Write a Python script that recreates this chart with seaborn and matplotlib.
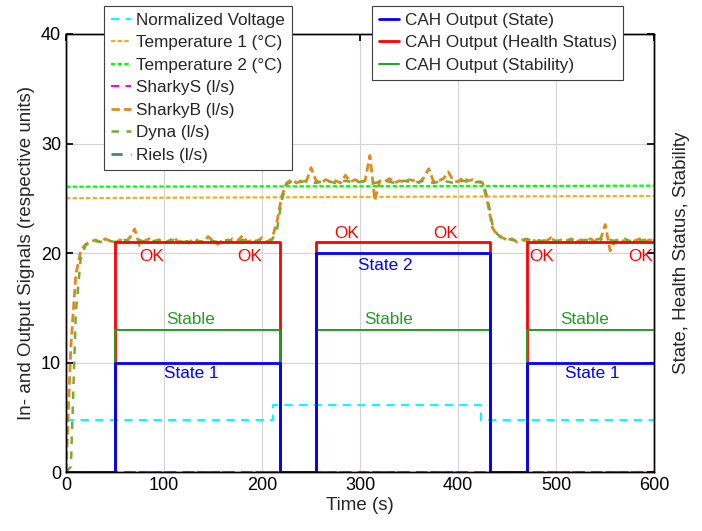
import numpy as np
import pandas as pd
import matplotlib
matplotlib.use("Agg")
import matplotlib.pyplot as plt
import seaborn as sns

# --- Data ---
TIME = np.arange(0, 601, 5)

sharky_b = [
    0.0, 11.5, 18.0, 20.2, 20.8, 21.0, 21.2, 21.0, 21.3, 21.1,
    20.9, 21.2, 21.0, 21.4, 22.2, 20.7, 21.1, 21.3, 21.0, 21.2,
    20.9, 21.1, 21.4, 21.0, 21.2, 20.9, 21.3, 21.1, 21.0, 21.5,
    21.1, 20.8, 21.2, 21.0, 21.3, 21.1, 21.6, 21.0, 21.2, 21.1,
    21.4, 21.0, 21.3, 22.8, 25.2, 26.4, 26.7, 26.4, 26.6, 26.5,
    27.8, 26.6, 26.4, 26.7, 26.5, 26.6, 26.4, 27.1, 26.5, 26.7,
    26.4, 26.6, 28.9, 24.8, 26.6, 26.5, 26.8, 26.4, 26.6, 26.5,
    26.7, 26.6, 26.4, 26.9, 27.7, 26.5, 26.6, 26.8, 27.4, 26.6,
    26.5, 26.9, 26.6, 26.7, 26.5, 26.4, 24.6, 22.3, 21.6, 21.4,
    21.2, 21.3, 21.0, 21.2, 21.1, 21.3, 21.0, 21.2, 21.1, 21.4,
    21.0, 21.2, 21.1, 21.3, 21.0, 21.2, 21.1, 21.3, 21.0, 21.2,
    22.6, 20.2, 21.1, 21.3, 21.0, 21.2, 21.1, 21.3, 21.0, 21.2,
    21.1,
]

dyna = [
    0.0, 0.5, 14.5, 19.5, 20.7, 21.0, 21.1, 21.0, 21.2, 21.1,
    21.0, 21.1, 21.2, 21.0, 21.1, 21.2, 21.0, 21.1, 21.1, 21.2,
    21.0, 21.1, 21.2, 21.1, 21.0, 21.1, 21.2, 21.0, 21.1, 21.2,
    21.1, 21.0, 21.1, 21.2, 21.1, 21.0, 21.2, 21.1, 21.0, 21.1,
    21.2, 21.1, 21.2, 22.0, 24.8, 26.3, 26.5, 26.4, 26.5, 26.6,
    26.5, 26.4, 26.5, 26.6, 26.5, 26.4, 26.5, 26.6, 26.5, 26.4,
    26.5, 26.6, 26.5, 26.4, 26.5, 26.6, 26.5, 26.4, 26.5, 26.6,
    26.5, 26.4, 26.5, 26.6, 26.5, 26.4, 26.5, 26.6, 26.5, 26.4,
    26.5, 26.6, 26.5, 26.4, 26.5, 26.5, 25.0, 22.6, 21.7, 21.4,
    21.3, 21.2, 21.1, 21.2, 21.3, 21.1, 21.2, 21.1, 21.2, 21.3,
    21.1, 21.2, 21.1, 21.2, 21.3, 21.1, 21.2, 21.1, 21.2, 21.3,
    21.1, 21.2, 21.1, 21.2, 21.3, 21.1, 21.2, 21.1, 21.2, 21.1,
    21.2,
]

temp_time = [0, 100, 200, 300, 400, 500, 600]
temp1 = [25.0, 25.05, 25.08, 25.12, 25.15, 25.18, 25.2]
temp2 = [26.05, 26.07, 26.09, 26.1, 26.12, 26.13, 26.15]

volt_time = [0, 211, 423, 600]
volt = [4.75, 6.1, 4.75, 4.75]

zero_time = [0, 600]
sharky_s = [0.0, 0.0]
riels = [0.0, 0.0]

cah_time = [0, 50, 218, 255, 432, 470, 600]
cah_state = [0, 10, 0, 20, 0, 10, 10]
cah_health = [0, 21, 0, 21, 0, 21, 21]
cah_stability = [0, 13, 0, 13, 0, 13, 13]

ok_labels = [(87, 19.7), (187, 19.7), (286, 21.8), (387, 21.8), (485, 19.7), (586, 19.7)]
stable_labels = [(127, 13.9), (329, 13.9), (529, 13.9)]
state_labels = [(128, 9.0, "State 1"), (326, 18.9, "State 2"), (537, 9.0, "State 1")]

# --- Style ---
sns.set_theme(style="white")
plt.rcParams["font.family"] = ["Liberation Sans", "DejaVu Sans"]

fig = plt.figure(figsize=(7.02, 5.31), dpi=100)
ax = fig.add_axes([0.094, 0.111, 0.838, 0.825])

left_series = [
    (volt_time, volt, "Normalized Voltage", "#00FFFF", 1.5, (4, 3), "steps-post"),
    (temp_time, temp1, "Temperature 1 (\u00b0C)", "#EDB120", 1.6, (2, 1), "default"),
    (temp_time, temp2, "Temperature 2 (\u00b0C)", "#00FF00", 1.6, (2, 1), "default"),
    (zero_time, sharky_s, "SharkyS (l/s)", "#FF00FF", 1.5, (4, 3), "default"),
    (TIME, sharky_b, "SharkyB (l/s)", "#E0891F", 2.0, (3, 1.5), "default"),
    (TIME, dyna, "Dyna (l/s)", "#77AC30", 1.8, (3, 3), "default"),
    (zero_time, riels, "Riels (l/s)", "#4D7F8C", 2.0, (4, 3), "default"),
]
left_handles = []
for xs, ys, name, col, lw, dash, ds in left_series:
    sns.lineplot(x=xs, y=ys, ax=ax, color=col, lw=lw, linestyle=(0, dash),
                 drawstyle=ds, estimator=None, sort=False, label=name, legend=False)
    left_handles.append(ax.get_lines()[-1])

ax.set_xlim(0, 600)
ax.set_ylim(0, 40)
ax.set_xticks([0, 100, 200, 300, 400, 500, 600])
ax.set_yticks([0, 10, 20, 30, 40])
ax.grid(True, color="#D3D3D3", lw=0.8)
ax.tick_params(direction="in", length=5, labelsize=13, top=True, right=False, colors="black")
ax.set_xlabel("Time (s)", fontsize=13.5, labelpad=2)
ax.set_ylabel("In- and Output Signals (respective units)", fontsize=13.5, labelpad=4)
for s in ax.spines.values():
    s.set_color("black")
    s.set_linewidth(1.0)

ax2 = ax.twinx()
right_series = [
    (cah_health, "CAH Output (Health Status)", "#FF0000", 2.0),
    (cah_stability, "CAH Output (Stability)", "#1FA01F", 1.4),
    (cah_state, "CAH Output (State)", "#0000FF", 2.0),
]
right_handles = {}
for ys, name, col, lw in right_series:
    sns.lineplot(x=cah_time, y=ys, ax=ax2, color=col, lw=lw, drawstyle="steps-post",
                 estimator=None, sort=False, label=name, legend=False)
    right_handles[name] = ax2.get_lines()[-1]

ax2.set_ylim(0, 40)
ax2.set_yticks([0, 10, 20, 30, 40])
ax2.set_yticklabels([])
ax2.tick_params(direction="in", length=5, colors="black")
ax2.set_ylabel("State, Health Status, Stability", fontsize=13.5, labelpad=10)
for s in ax2.spines.values():
    s.set_color("black")
    s.set_linewidth(1.0)

for x, y in ok_labels:
    ax2.text(x, y, "OK", color="#FF0000", fontsize=12.3, ha="center", va="center")
for x, y in stable_labels:
    ax2.text(x, y, "Stable", color="#1FA01F", fontsize=12.3, ha="center", va="center")
for x, y, t in state_labels:
    ax2.text(x, y, t, color="#0000FF", fontsize=12.3, ha="center", va="center")

leg_kw = dict(loc="upper left", fontsize=12.3, frameon=True, fancybox=False,
              framealpha=1, edgecolor="#404040", handlelength=1.2, handletextpad=0.3,
              labelspacing=0.44, borderpad=0.4, borderaxespad=0)
leg1 = ax2.legend(handles=left_handles, bbox_to_anchor=(0.148, 0.989),
                  bbox_transform=fig.transFigure, **leg_kw)
leg1.get_frame().set_linewidth(0.8)
ax2.add_artist(leg1)
order = ["CAH Output (State)", "CAH Output (Health Status)", "CAH Output (Stability)"]
leg2 = ax2.legend(handles=[right_handles[k] for k in order], bbox_to_anchor=(0.530, 0.989),
                  bbox_transform=fig.transFigure, **leg_kw)
leg2.get_frame().set_linewidth(0.8)

fig.savefig("out.png", dpi=100)
